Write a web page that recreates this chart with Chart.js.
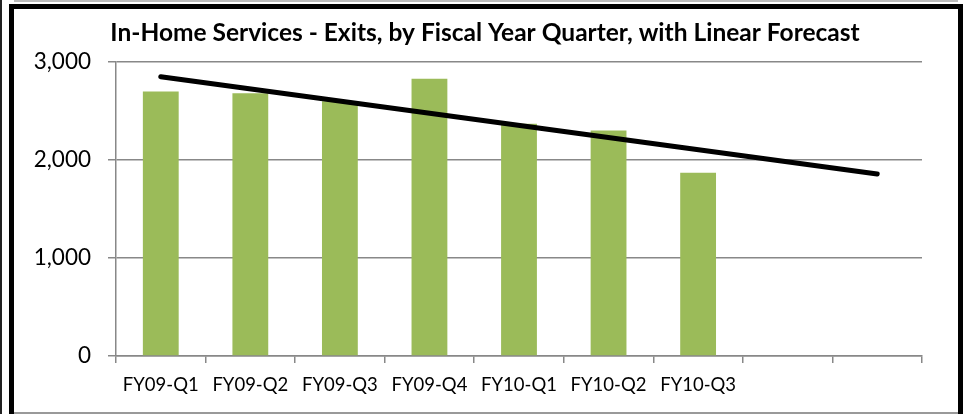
<!DOCTYPE html>
<html>
<head>
<meta charset="utf-8">
<script src="https://cdn.jsdelivr.net/npm/chart.js@4/dist/chart.umd.min.js"></script>
<style>
  html, body { margin: 0; padding: 0; background: #fff; }
  body { width: 965px; height: 414px; position: relative; overflow: hidden; }
  #wrap { position: absolute; left: 0; top: 0; width: 965px; height: 414px; }
  #frame { position: absolute; left: 9px; top: 4px; width: 944px; height: 420px;
           border: 5px solid #000; box-sizing: content-box; pointer-events: none; }
  #edgeL { position: absolute; left: 0; top: 0; width: 2px; height: 414px; background: #222; }
  #edgeB { position: absolute; left: 14px; top: 412px; width: 944px; height: 2px; background: #999; }
  #edgeT { position: absolute; left: 14px; top: 0; width: 944px; height: 2px; background: #bbb; }
</style>
</head>
<body>
<div id="wrap"><canvas id="c" width="965" height="414"></canvas></div>
<div id="edgeL"></div>
<div id="edgeT"></div>
<div id="frame"></div>
<div id="edgeB"></div>
<script>
const categories = ['FY09-Q1','FY09-Q2','FY09-Q3','FY09-Q4','FY10-Q1','FY10-Q2','FY10-Q3','',''];
const exits = [2700, 2680, 2600, 2830, 2370, 2300, 1870, null, null];
const forecast = [2850, null, null, null, null, null, null, null, 1857];
const yTicks = [0, 1000, 2000, 3000];
const titleText = 'In-Home Services - Exits, by Fiscal Year Quarter, with Linear Forecast';

const FONT = 'Lato, "Open Sans", sans-serif';
const axisGray = '#888888';

// shift the title's box so its centre sits where the reference title sits
const titleShift = {
  id: 'titleShift',
  afterLayout(chart) {
    if (chart.titleBlock) { chart.titleBlock.left = 48; }
  }
};

new Chart(document.getElementById('c'), {
  data: {
    labels: categories,
    datasets: [
      {
        type: 'line',
        data: forecast,
        borderColor: '#000',
        borderWidth: 5,
        borderCapStyle: 'round',
        spanGaps: true,
        pointRadius: 0,
        fill: false,
        order: 0
      },
      {
        type: 'bar',
        data: exits,
        backgroundColor: '#9BBB59',
        borderWidth: 0,
        categoryPercentage: 1,
        barPercentage: 0.4,
        order: 1
      }
    ]
  },
  plugins: [titleShift],
  options: {
    responsive: false,
    animation: false,
    layout: { padding: { left: 0, right: 43, top: 0, bottom: 0 } },
    plugins: {
      legend: { display: false },
      tooltip: { enabled: false },
      title: {
        display: true,
        text: titleText,
        color: '#000',
        font: { family: FONT, size: 24.5, weight: 'bold', lineHeight: 1.2 },
        padding: { top: 18, bottom: 14.6 }
      }
    },
    scales: {
      x: {
        type: 'category',
        offset: true,
        grid: {
          offset: true,
          drawOnChartArea: false,
          drawTicks: true,
          tickLength: 7,
          color: axisGray,
          lineWidth: 1.5
        },
        border: { color: axisGray, width: 1.5 },
        ticks: {
          color: '#000',
          font: { family: FONT, size: 18.5 },
          padding: 11,
          maxRotation: 0,
          autoSkip: false
        },
        afterFit: (s) => { s.height = 58; }
      },
      y: {
        min: 0,
        max: 3000,
        afterBuildTicks: (s) => { s.ticks = yTicks.map(v => ({ value: v })); },
        grid: {
          color: axisGray,
          lineWidth: 1.5,
          tickLength: 8
        },
        border: { color: axisGray, width: 1.5 },
        ticks: {
          color: '#000',
          font: { family: FONT, size: 22.5 },
          padding: 17,
          callback: (v) => Number(v).toLocaleString('en-US')
        },
        afterFit: (s) => { s.width = 116; }
      }
    }
  }
});
</script>
</body>
</html>
